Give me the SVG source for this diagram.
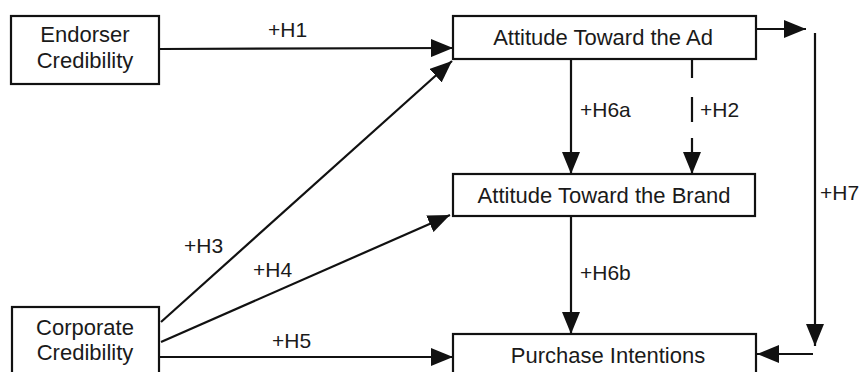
<svg xmlns="http://www.w3.org/2000/svg" width="859" height="372" viewBox="0 0 859 372">
<style>
.box{fill:#fff;stroke:#111;stroke-width:2.2}
.t{font-family:"Liberation Sans",Arial,sans-serif;font-size:22px;fill:#1a1a1a;text-anchor:middle}
.l{font-family:"Liberation Sans",Arial,sans-serif;font-size:21px;fill:#1a1a1a}
.c{stroke:#111;stroke-width:2.2;fill:none}
</style>
<defs>
<marker id="ah" markerUnits="userSpaceOnUse" markerWidth="22" markerHeight="18" refX="22" refY="9" orient="auto">
<path d="M0,0 L22,9 L0,18 z" fill="#111"/>
</marker>
</defs>
<g id="connectors">
<line class="c" x1="159" y1="49" x2="453" y2="48" marker-end="url(#ah)"/>
<line class="c" x1="756" y1="29" x2="806" y2="29" marker-end="url(#ah)"/>
<line class="c" x1="815" y1="33" x2="815" y2="346" marker-end="url(#ah)"/>
<line class="c" x1="813" y1="354" x2="757" y2="354" marker-end="url(#ah)"/>
<line class="c" x1="571" y1="59" x2="571" y2="174" marker-end="url(#ah)"/>
<path class="c" d="M692,59 L692,78 M692,97 L692,122 M692,138 L692,174" marker-end="url(#ah)"/>
<line class="c" x1="571" y1="216" x2="571" y2="334" marker-end="url(#ah)"/>
<line class="c" x1="161" y1="322" x2="452" y2="61" marker-end="url(#ah)"/>
<line class="c" x1="161" y1="342" x2="450" y2="215" marker-end="url(#ah)"/>
<line class="c" x1="159" y1="357" x2="453" y2="357" marker-end="url(#ah)"/>
<text class="l" x="268" y="37">+H1</text>
<text class="l" x="580" y="117">+H6a</text>
<text class="l" x="700" y="117">+H2</text>
<text class="l" x="820" y="200">+H7</text>
<text class="l" x="580" y="280">+H6b</text>
<text class="l" x="184" y="253">+H3</text>
<text class="l" x="253" y="277">+H4</text>
<text class="l" x="272" y="348">+H5</text>
</g>
<g id="endorser">
<rect class="box" x="11" y="16" width="148" height="68"/>
<text class="t" x="85" y="42">Endorser</text>
<text class="t" x="85" y="68">Credibility</text>
</g>
<g id="ad">
<rect class="box" x="453" y="16" width="303" height="43"/>
<text class="t" x="603" y="45">Attitude Toward the Ad</text>
</g>
<g id="brand">
<rect class="box" x="453" y="174" width="302" height="42"/>
<text class="t" x="604" y="203">Attitude Toward the Brand</text>
</g>
<g id="purchase">
<rect class="box" x="453" y="334" width="303" height="50"/>
<text class="t" x="608" y="363">Purchase Intentions</text>
</g>
<g id="corporate">
<rect class="box" x="12" y="307" width="147" height="70"/>
<text class="t" x="85" y="335">Corporate</text>
<text class="t" x="85" y="360">Credibility</text>
</g>
</svg>
